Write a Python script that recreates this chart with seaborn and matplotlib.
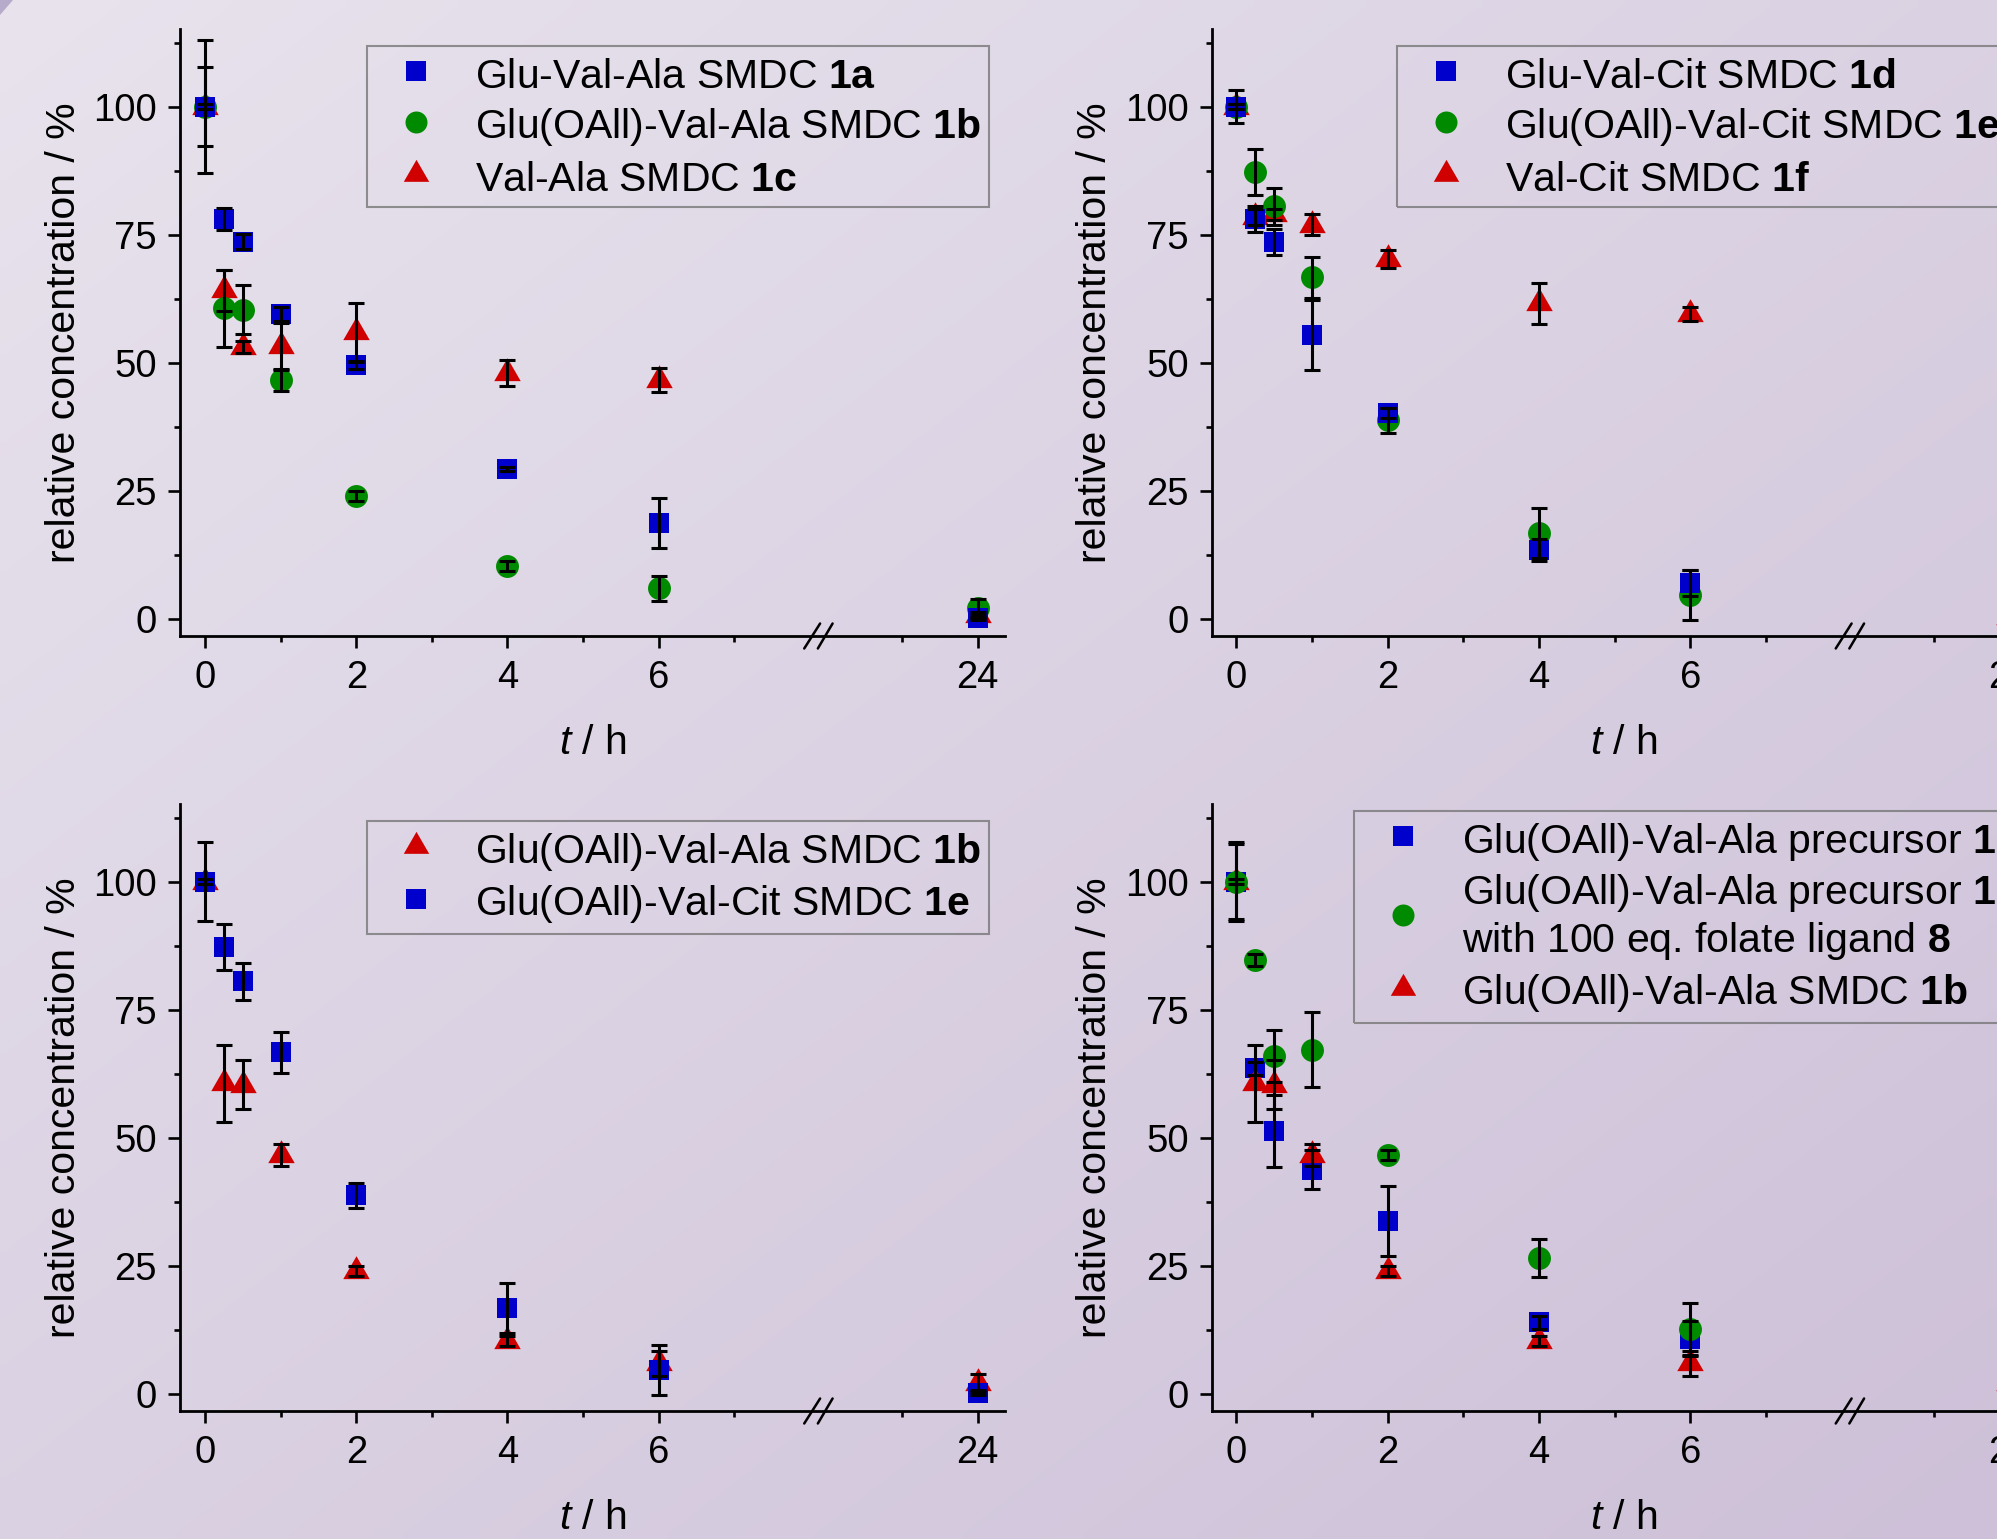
import numpy as np
import matplotlib
matplotlib.use("Agg")
import matplotlib.pyplot as plt
import seaborn as sns
from matplotlib.lines import Line2D
from matplotlib.patches import Polygon
from matplotlib.ticker import FixedLocator, NullFormatter, FixedFormatter

# ---------------- data ----------------
time_h = [0, 0.25, 0.5, 1, 2, 4, 6, 24]

conc_1a = [100, 78.1, 73.7, 59.6, 49.6, 29.3, 18.7, 0.3]
err_1a = [13.0, 2.1, 1.5, 1.4, 0.8, 0.4, 4.9, 0.5]
conc_1b = [100, 60.7, 60.4, 46.7, 24.1, 10.4, 6.0, 2.2]
err_1b = [7.7, 7.5, 4.8, 2.2, 1.0, 1.0, 2.5, 1.7]
conc_1c = [100, 64.2, 53.1, 53.3, 56.0, 48.1, 46.7, 0.8]
err_1c = [0.5, 4.0, 1.2, 4.6, 5.8, 2.5, 2.3, 0.5]

conc_1d = [100, 78.1, 73.6, 55.4, 40.2, 13.5, 7.0, 0.5]
err_1d = [3.2, 2.5, 2.6, 6.8, 1.0, 2.1, 2.5, 0.5]
conc_1e = [100, 87.2, 80.6, 66.7, 38.8, 16.8, 4.7, 0.3]
err_1e = [0.5, 4.5, 3.6, 4.0, 2.4, 4.9, 4.9, 0.5]
conc_1f = [100, 78.5, 79.0, 77.0, 70.3, 61.7, 59.6, 0.5]
err_1f = [0.5, 1.5, 1.0, 2.0, 1.8, 4.0, 1.4, 0.5]

conc_prec = [100, 63.6, 51.3, 43.8, 33.8, 14.0, 10.8, 0.5]
err_prec = [7.3, 1.3, 7.0, 3.8, 6.8, 1.3, 3.4, 0.5]
conc_prec_fol = [100, 84.8, 66.0, 67.2, 46.7, 26.6, 12.7, 1.0]
err_prec_fol = [0.5, 1.2, 5.0, 7.3, 1.0, 3.7, 5.0, 0.5]

x_major = [0, 2, 4, 6, 24]
x_minor = [1, 3, 5, 7, 23]
y_major = [0, 25, 50, 75, 100]
y_minor = [12.5, 37.5, 62.5, 87.5, 112.5]

lab_1a = "Glu-Val-Ala SMDC $\\mathbf{1a}$"
lab_1b = "Glu(OAll)-Val-Ala SMDC $\\mathbf{1b}$"
lab_1c = "Val-Ala SMDC $\\mathbf{1c}$"
lab_1d = "Glu-Val-Cit SMDC $\\mathbf{1d}$"
lab_1e = "Glu(OAll)-Val-Cit SMDC $\\mathbf{1e}$"
lab_1f = "Val-Cit SMDC $\\mathbf{1f}$"
lab_prec = "Glu(OAll)-Val-Ala precursor $\\mathbf{13}$"
lab_prec_fol = "Glu(OAll)-Val-Ala precursor $\\mathbf{13}$\nwith 100 eq. folate ligand $\\mathbf{8}$"

# ---------------- style ----------------
sns.set_theme(style="ticks")
plt.rcParams['font.family'] = ['Liberation Sans', 'DejaVu Sans']
plt.rcParams['mathtext.fontset'] = 'custom'
plt.rcParams['mathtext.rm'] = 'Liberation Sans'
plt.rcParams['mathtext.it'] = 'Liberation Sans:italic'
plt.rcParams['mathtext.bf'] = 'Liberation Sans:bold'
plt.rcParams['axes.edgecolor'] = 'black'
plt.rcParams['xtick.color'] = 'black'
plt.rcParams['ytick.color'] = 'black'
plt.rcParams['text.color'] = 'black'
plt.rcParams['axes.labelcolor'] = 'black'

BLUE = '#0000cc'
GREEN = '#008a00'
RED = '#d00000'
MK = {
    's': dict(marker='s', ms=14.8),
    'o': dict(marker='o', ms=16.5),
    '^': dict(marker=(3, 0, 0), ms=22.0),
}

TICK_FS = 27.5
LAB_FS = 29.5

# broken x axis via function scale
A_BRK, B_BRK, GAP = 8.3, 22.1, 0.02
SHIFT = B_BRK - (A_BRK + GAP)


def fwd(x):
    x = np.asarray(x, dtype=float)
    return np.where(x <= A_BRK, x,
                    np.where(x >= B_BRK, x - SHIFT,
                             A_BRK + (x - A_BRK) * GAP / (B_BRK - A_BRK)))


def inv(y):
    y = np.asarray(y, dtype=float)
    return np.where(y <= A_BRK, y,
                    np.where(y >= A_BRK + GAP, y + SHIFT,
                             A_BRK + (y - A_BRK) * (B_BRK - A_BRK) / GAP))


W, H = 1997, 1539
fig = plt.figure(figsize=(W / 100, H / 100), dpi=100)

# background gradient
bg = fig.add_axes([0, 0, 1, 1], zorder=-10)
gh, gw = 160, 200
yy, xx = np.mgrid[0:gh, 0:gw]
u = (xx / (gw - 1) + yy / (gh - 1)) / 2.0
c0 = np.array([232, 227, 237]) / 255.0
c1 = np.array([205, 192, 216]) / 255.0
img = c0 + (c1 - c0) * u[..., None]
bg.imshow(img, extent=[0, 1, 0, 1], origin='upper', aspect='auto', interpolation='bilinear')
bg.add_patch(Polygon([[0, 1], [13 / W, 1], [0, 1 - 15 / H]], closed=True,
                     facecolor='#b6abca', edgecolor='none'))
bg.set_xlim(0, 1)
bg.set_ylim(0, 1)
bg.set_axis_off()

AX_W, AX_H = 825, 607
panels = [
    dict(left=180, bottom=636,
         draw=[(conc_1c, err_1c, RED, '^'), (conc_1b, err_1b, GREEN, 'o'), (conc_1a, err_1a, BLUE, 's')],
         legend=[(lab_1a, BLUE, 's'), (lab_1b, GREEN, 'o'), (lab_1c, RED, '^')],
         leg_pos=(367, 46)),
    dict(left=1211.5, bottom=636,
         draw=[(conc_1f, err_1f, RED, '^'), (conc_1e, err_1e, GREEN, 'o'), (conc_1d, err_1d, BLUE, 's')],
         legend=[(lab_1d, BLUE, 's'), (lab_1e, GREEN, 'o'), (lab_1f, RED, '^')],
         leg_pos=(1397, 46)),
    dict(left=180, bottom=1411,
         draw=[(conc_1b, err_1b, RED, '^'), (conc_1e, err_1e, BLUE, 's')],
         legend=[(lab_1b, RED, '^'), (lab_1e, BLUE, 's')],
         leg_pos=(367, 821)),
    dict(left=1211.5, bottom=1411,
         draw=[(conc_prec, err_prec, BLUE, 's'), (conc_1b, err_1b, RED, '^'), (conc_prec_fol, err_prec_fol, GREEN, 'o')],
         legend=[(lab_prec, BLUE, 's'), (lab_prec_fol, GREEN, 'o'), (lab_1b, RED, '^')],
         leg_pos=(1354, 811)),
]

for p in panels:
    ax = fig.add_axes([p['left'] / W, 1 - p['bottom'] / H, AX_W / W, AX_H / H])
    ax.set_facecolor('none')
    ax.set_xscale('function', functions=(fwd, inv))
    for conc, err, col, mk in p['draw']:
        st = MK[mk]
        sns.scatterplot(x=time_h, y=conc, ax=ax, marker=st['marker'], s=st['ms'] ** 2,
                        color=col, linewidth=0, edgecolor=col, zorder=3, legend=False)
    for conc, err, col, mk in p['draw']:
        ax.errorbar(time_h, conc, yerr=err, fmt='none', ecolor='black',
                    elinewidth=2.2, capsize=5.8, capthick=2.2, zorder=4)
    ax.set_xlim(-0.33, 24.36)
    ax.set_ylim(-3.3, 115.2)
    ax.xaxis.set_major_locator(FixedLocator(x_major))
    ax.xaxis.set_major_formatter(FixedFormatter([str(v) for v in x_major]))
    ax.xaxis.set_minor_locator(FixedLocator(x_minor))
    ax.xaxis.set_minor_formatter(NullFormatter())
    ax.yaxis.set_major_locator(FixedLocator(y_major))
    ax.yaxis.set_major_formatter(FixedFormatter([str(v) for v in y_major]))
    ax.yaxis.set_minor_locator(FixedLocator(y_minor))
    ax.yaxis.set_minor_formatter(NullFormatter())
    for s in ['top', 'right']:
        ax.spines[s].set_visible(False)
    for s in ['left', 'bottom']:
        ax.spines[s].set_linewidth(2.0)
        ax.spines[s].set_color('black')
    ax.tick_params(axis='both', which='major', direction='out', length=8.5, width=1.9,
                   labelsize=TICK_FS, color='black')
    ax.tick_params(axis='both', which='minor', direction='out', length=4.5, width=1.9, color='black')
    ax.tick_params(axis='y', which='major', pad=8)
    ax.tick_params(axis='x', which='major', pad=9)
    ax.set_ylabel('relative concentration / %', fontsize=LAB_FS)
    ax.set_xlabel('$t$ / h', fontsize=LAB_FS)
    ax.yaxis.label.set_va('center')
    ax.xaxis.label.set_va('center')
    ax.yaxis.set_label_coords(-0.141, 0.5)
    ax.xaxis.set_label_coords(0.5, -0.177)
    # break marks
    trans = ax.get_xaxis_transform()
    for xc in (8.03, 8.21):
        ax.plot([xc - 0.105, xc + 0.105], [-0.0206, 0.0206], transform=trans,
                color='black', lw=1.8, clip_on=False, zorder=6)
    # legend
    handles = []
    labels = []
    for lab, col, mk in p['legend']:
        st = MK[mk]
        handles.append(Line2D([], [], linestyle='none', marker=st['marker'], markersize=st['ms'] * 0.96,
                              color=col, markeredgewidth=0))
        labels.append(lab)
    lx, ly = p['leg_pos']
    leg = ax.legend(handles, labels, loc='upper left', bbox_to_anchor=(lx / W, 1 - ly / H),
                    bbox_transform=fig.transFigure, borderaxespad=0, frameon=True,
                    fancybox=False, edgecolor='#777777', facecolor='none',
                    fontsize=LAB_FS, borderpad=0.2, handlelength=1.97, handleheight=1.12,
                    handletextpad=0.47, labelspacing=0.21)
    leg.get_frame().set_linewidth(1.5)

fig.savefig('out.png', dpi=100)
